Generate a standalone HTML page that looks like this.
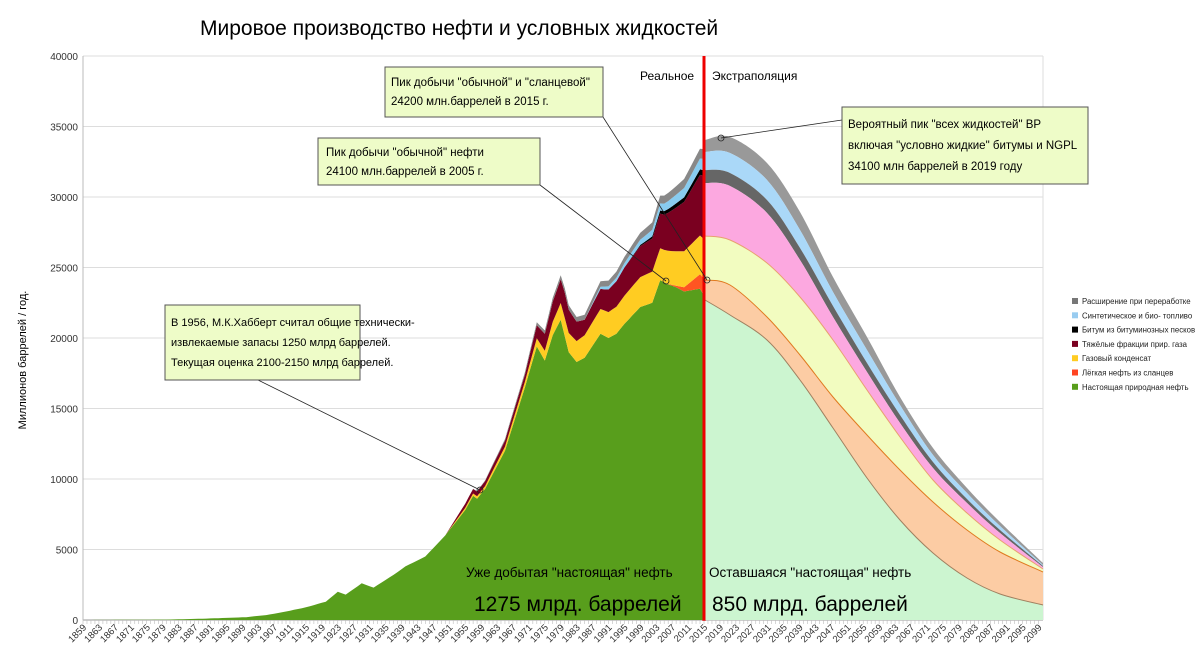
<!DOCTYPE html>
<html><head><meta charset="utf-8"><style>
body{margin:0;background:#fff}
svg{font-family:"Liberation Sans","DejaVu Sans",sans-serif;display:block}
</style></head><body>
<svg id="s" width="1200" height="672" xmlns="http://www.w3.org/2000/svg">
<rect width="1200" height="672" fill="#fff"/>
<text x="200" y="35" font-size="21" fill="#000">Мировое производство нефти и условных жидкостей</text>
<g id="grid"></g>
<g id="areas"></g>
<line x1="704" y1="56" x2="704" y2="621" stroke="#e00" stroke-width="3"/>
<text x="640" y="80" font-size="12">Реальное</text>
<text x="712" y="80" font-size="12">Экстраполяция</text>
<text transform="translate(26,360) rotate(-90)" font-size="11" text-anchor="middle">Миллионов баррелей / год.</text>
<g id="ax"></g>
<g stroke="#222" stroke-width="0.8" fill="none">
<line x1="258" y1="380" x2="480" y2="490"/>
<line x1="540" y1="185" x2="666" y2="281"/>
<line x1="603" y1="117" x2="707" y2="280"/>
<line x1="842" y1="120" x2="721" y2="138"/>
<circle cx="480" cy="490" r="3"/><circle cx="666" cy="281" r="3"/><circle cx="707" cy="280" r="3"/><circle cx="721" cy="138" r="3"/>
</g>
<g font-size="11.5" fill="#000">
<rect x="165" y="305" width="195" height="75" fill="#eefcc8" stroke="#555"/>
<g font-size="11">
<text x="171" y="326">В 1956, М.К.Хабберт считал общие технически-</text>
<text x="171" y="346">извлекаемые запасы 1250 млрд баррелей.</text>
<text x="171" y="366">Текущая оценка 2100-2150 млрд баррелей.</text>
</g>
<rect x="318" y="138" width="222" height="47" fill="#eefcc8" stroke="#555"/>
<text x="326" y="156">Пик добычи "обычной" нефти</text>
<text x="326" y="175">24100 млн.баррелей в 2005 г.</text>
<rect x="385" y="67" width="218" height="50" fill="#eefcc8" stroke="#555"/>
<text x="391" y="86">Пик добычи "обычной" и "сланцевой"</text>
<text x="391" y="105">24200 млн.баррелей в 2015 г.</text>
<rect x="842" y="107" width="246" height="77" fill="#eefcc8" stroke="#555"/>
<text x="848" y="128">Вероятный пик "всех жидкостей" BP</text>
<text x="848" y="149">включая "условно жидкие" битумы и NGPL</text>
<text x="848" y="170">34100 млн баррелей в 2019 году</text>
</g>
<text x="466" y="577" font-size="13.5">Уже добытая "настоящая" нефть</text>
<text x="709" y="577" font-size="13.5">Оставшаяся "настоящая" нефть</text>
<text x="474" y="611" font-size="21">1275 млрд. баррелей</text>
<text x="712" y="611" font-size="21">850 млрд. баррелей</text>
<g id="leg" font-size="7.8"></g>
</svg>
<script>
const NS="http://www.w3.org/2000/svg";
function el(p,t,a,txt){const e=document.createElementNS(NS,t);for(const k in a)e.setAttribute(k,a[k]);if(txt!==undefined)e.textContent=txt;document.getElementById(p).appendChild(e);return e;}
const X=y=>83+(y-1859)*(621/156), Y=v=>620-v*0.0141;
for(let v=0;v<=40000;v+=5000){el('grid','line',{x1:83,x2:1043,y1:Y(v),y2:Y(v),stroke:v?'#ddd':'#999','stroke-width':1});
el('ax','text',{x:78,y:Y(v)+4,'font-size':10,'text-anchor':'end',fill:'#333'},v);}
el('grid','line',{x1:83,x2:83,y1:56,y2:620,stroke:'#bbb'});
el('grid','line',{x1:1043,x2:1043,y1:56,y2:620,stroke:'#ddd'});
for(let y=1859;y<=2099;y++){el('ax','line',{x1:X(y),x2:X(y),y1:620,y2:624,stroke:'#bbb','stroke-width':0.6});}
for(let y=1859;y<=2099;y+=4){el('ax','text',{transform:`translate(${X(y)+4},628) rotate(-45)`,'font-size':9.5,'text-anchor':'end',fill:'#333'},y);}
function interp(arr,y){if(y<=arr[0][0])return arr[0][1];for(let i=1;i<arr.length;i++){if(y<=arr[i][0]){const[a,b]=arr[i-1],[c,d]=arr[i];return b+(d-b)*(y-a)/(c-a);}}return arr[arr.length-1][1];}
const green=[[1859,0],[1880,30],[1890,100],[1900,200],[1905,350],[1910,600],[1915,900],[1920,1300],[1923,2000],[1925,1800],[1929,2600],[1932,2300],[1937,3200],[1940,3800],[1945,4500],[1950,6000],[1955,7800],[1957,8800],[1958,8600],[1960,9300],[1965,12000],[1970,16500],[1973,19400],[1975,18400],[1977,20200],[1979,21300],[1981,19000],[1983,18300],[1985,18600],[1989,20300],[1991,20000],[1993,20300],[1995,21000],[1999,22200],[2002,22500],[2004,24100],[2006,23800],[2008,23600],[2010,23300],[2014,23500],[2015,23000]];
const layers=[
['#ff5522',[[2005,0],[2008,100],[2010,300],[2015,1200]]],
['#ffcc22',[[1950,0],[1955,150],[1960,200],[1970,400],[1975,700],[1980,1300],[1985,1600],[1995,2000],[2005,2300],[2015,2800]]],
['#7a0020',[[1950,0],[1955,300],[1960,350],[1970,500],[1975,1200],[1980,1800],[1985,1100],[1990,1500],[1995,2000],[2005,2500],[2010,3500],[2015,4500]]],
['#000000',[[1995,0],[2000,100],[2005,250],[2015,400]]],
['#88ccf0',[[1985,0],[1990,200],[2000,400],[2015,800]]],
['#888888',[[1955,0],[1960,50],[1980,300],[2000,500],[2015,700]]]];
const yrs=[];for(let y=1859;y<=2015;y++)yrs.push(y);
let base=yrs.map(y=>interp(green,y));
function poly(top,bot,fill){let d='M'+yrs.map((y,i)=>X(y).toFixed(1)+','+Y(top[i]).toFixed(1)).join('L');for(let i=yrs.length-1;i>=0;i--)d+='L'+X(yrs[i]).toFixed(1)+','+Y(bot[i]).toFixed(1);el('areas','path',{d:d+'Z',fill:fill});}
poly(base,yrs.map(()=>0),'#589e1c');
for(const[c,a]of layers){const top=yrs.map((y,i)=>base[i]+interp(a,y));poly(top,base,c);base=top;}
function cr(pts){let d='';for(let i=0;i<pts.length-1;i++){const p0=pts[Math.max(0,i-1)],p1=pts[i],p2=pts[i+1],p3=pts[Math.min(pts.length-1,i+2)];
const c1=[p1[0]+(p2[0]-p0[0])/6,p1[1]+(p2[1]-p0[1])/6],c2=[p2[0]-(p3[0]-p1[0])/6,p2[1]-(p3[1]-p1[1])/6];d+=`C${c1[0]},${c1[1]} ${c2[0]},${c2[1]} ${p2[0]},${p2[1]}`;}return d;}
const xs=[705,730,767,800,833,867,900,933,967,1000,1043];
const B={
g:[300,315,340,380,428,478,520,553,578,594,605],
p:[280,285,317,355,397,435,470,502,530,552,572],
y:[236,240,263,297,340,390,437,480,513,540,569],
k:[183,186,213,260,317,372,423,468,503,533,567],
d:[170,173,200,248,306,363,415,462,499,530,566],
b:[152,153,180,230,292,350,405,455,493,526,565],
r:[140,137,163,212,277,337,397,448,488,522,563]};
function band(top,bot,fill,stroke){const tp=xs.map((x,i)=>[x,top[i]]);const bp=bot?xs.map((x,i)=>[x,bot[i]]).reverse():null;
let d='M'+tp[0].join(',')+cr(tp)+(bot?'L'+bp[0].join(',')+cr(bp):'L1043,620L705,620')+'Z';el('areas','path',{d:d,fill:fill});
if(stroke)el('areas','path',{d:'M'+tp[0].join(',')+cr(tp),fill:'none',stroke:stroke,'stroke-width':1});}
band(B.r,B.b,'#999999');band(B.b,B.d,'#aad8f8');band(B.d,B.k,'#666666');band(B.k,B.y,'#fca8e0');
band(B.y,B.p,'#f2fcc0','#e8a070');band(B.p,B.g,'#fccca4','#e07a20');band(B.g,null,'#ccf5d0','#a08060');
const L=[['#777','Расширение при переработке'],['#99ccf0','Синтетическое и био- топливо'],['#000','Битум из битуминозных песков'],['#7a0020','Тяжёлые фракции прир. газа'],['#ffcc22','Газовый конденсат'],['#ff4422','Лёгкая нефть из сланцев'],['#589e1c','Настоящая природная нефть']];
L.forEach((l,i)=>{const y=304+i*14.3;el('leg','rect',{x:1072,y:y-6,width:6,height:6,fill:l[0]});el('leg','text',{x:1082,y:y,fill:'#222'},l[1]);});
</script>
</body></html>
